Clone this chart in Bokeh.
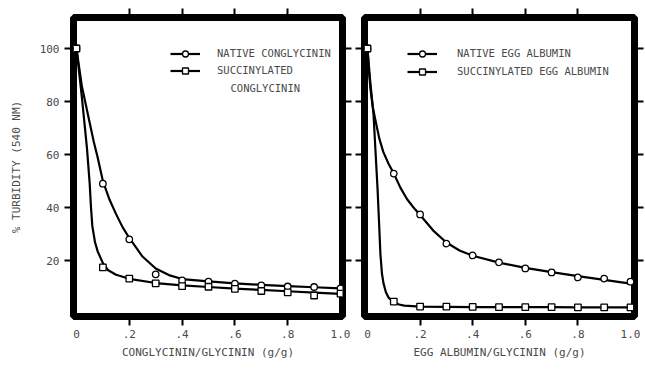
from bokeh.plotting import figure
from bokeh.models import FixedTicker, LinearAxis, Range1d, Legend, LegendItem, Label
from bokeh.layouts import row
from bokeh.embed import file_html
from bokeh.resources import INLINE

# ---------------- data ----------------
ratio_x = [0.0, 0.1, 0.2, 0.3, 0.4, 0.5, 0.6, 0.7, 0.8, 0.9, 1.0]

native_conglycinin = [100, 49, 28, 14.8, 12.5, 12, 11.3, 10.6, 10.2, 10.0, 9.5]
succinylated_conglycinin = [100, 17.4, 13.2, 11.4, 10.3, 10.1, 9.3, 8.5, 8.0, 6.8, 7.5]

native_egg_albumin = [100, 52.8, 37.4, 26.4, 21.9, 19.3, 17.0, 15.5, 13.6, 13.2, 12.0]
succinylated_egg_albumin = [100, 4.5, 2.6, 2.6, 2.5, 2.4, 2.4, 2.4, 2.3, 2.3, 2.3]

# drawn (fitted) curves
cong_native_curve_x = [0, 0.01, 0.02, 0.035, 0.05, 0.065, 0.08, 0.1, 0.125, 0.15, 0.175,
                       0.2, 0.25, 0.3, 0.35, 0.4, 0.5, 0.6, 0.7, 0.8, 0.9, 1.0]
cong_native_curve_y = [100, 93, 86, 79, 72, 65, 59, 50, 43, 37.5, 32.5,
                       28.5, 21.5, 17, 14.5, 13, 12.1, 11.4, 10.8, 10.3, 9.9, 9.5]

cong_succ_curve_x = [0, 0.01, 0.02, 0.03, 0.04, 0.05, 0.055, 0.06, 0.07, 0.08, 0.1,
                     0.12, 0.15, 0.2, 0.3, 0.4, 0.5, 0.6, 0.7, 0.8, 0.9, 1.0]
cong_succ_curve_y = [100, 91, 82, 72, 62, 49, 40, 33, 27, 23.5, 19,
                     16.3, 14.6, 13.1, 11.5, 10.6, 10.0, 9.4, 8.9, 8.4, 7.9, 7.4]

egg_native_curve_x = [0, 0.005, 0.011, 0.02, 0.03, 0.045, 0.06, 0.08, 0.1, 0.125, 0.15,
                      0.175, 0.2, 0.25, 0.3, 0.35, 0.4, 0.5, 0.6, 0.7, 0.8, 0.9, 1.0]
egg_native_curve_y = [100, 92, 85, 78, 73, 66, 61, 56.5, 52.8, 47.5, 43.2,
                      40, 37.2, 31.3, 26.8, 23.8, 21.8, 19.2, 17.2, 15.6, 14.1, 12.7, 11.3]

egg_succ_curve_x = [0, 0.01, 0.023, 0.03, 0.038, 0.045, 0.049, 0.055, 0.061, 0.07, 0.08,
                    0.1, 0.12, 0.14, 0.2, 0.3, 0.4, 0.5, 0.6, 0.7, 0.8, 0.9, 1.0]
egg_succ_curve_y = [100, 88, 75, 62, 47.5, 32, 22.6, 15, 11.3, 8, 6,
                    4.3, 3.4, 3.0, 2.6, 2.5, 2.4, 2.4, 2.4, 2.4, 2.3, 2.3, 2.3]

y_ticks = [20, 40, 60, 80, 100]
x_ticks = [0, 0.2, 0.4, 0.6, 0.8, 1.0]
x_inner_ticks = [0.2, 0.4, 0.6, 0.8]
x_tick_labels = ["0", ".2", ".4", ".6", ".8", "1.0"]
y_tick_labels = ["20", "40", "60", "80", "100"]

FONT = "DejaVu Sans Mono"
TEXT = "#4a4a4a"
TICK_OUT = 9


def style_axis(ax, ticker, labels=None, title=None, label_standoff=4, title_standoff=4):
    ax.ticker = ticker
    ax.axis_line_color = None
    ax.major_tick_in = 0
    ax.major_tick_out = TICK_OUT
    ax.major_tick_line_width = 2
    ax.minor_tick_in = 0
    ax.minor_tick_out = TICK_OUT
    ax.minor_tick_line_width = 2
    ax.minor_tick_line_color = "black"
    if labels is None:
        ax.major_label_text_font_size = "0px"
        ax.major_label_text_color = None
        ax.major_label_standoff = 0
    else:
        ax.major_label_overrides = labels
        ax.major_label_text_font = FONT
        ax.major_label_text_font_size = "11px"
        ax.major_label_text_color = TEXT
        ax.major_label_standoff = label_standoff
    if title is not None:
        ax.axis_label = title
        ax.axis_label_text_font = FONT
        ax.axis_label_text_font_size = "11px"
        ax.axis_label_text_font_style = "normal"
        ax.axis_label_text_color = TEXT
        ax.axis_label_standoff = title_standoff


def make_panel(width, border_left, border_right, x_range, show_y_labels, x_title):
    p = figure(width=width, height=371, output_backend="svg", toolbar_location=None,
               x_range=x_range, y_range=Range1d(-1.13, 111.7),
               min_border_left=border_left, min_border_right=border_right,
               min_border_top=17, min_border_bottom=55)
    p.outline_line_color = "black"
    p.outline_line_width = 7
    p.xgrid.visible = False
    p.ygrid.visible = False
    p.background_fill_color = "white"
    p.border_fill_color = "white"

    # bottom axis: labels on every tick, tick marks only on the inner ones
    bottom = p.xaxis[0]
    style_axis(bottom, FixedTicker(ticks=x_ticks, minor_ticks=x_inner_ticks),
               labels={t: s for t, s in zip(x_ticks, x_tick_labels)},
               title=x_title, label_standoff=4, title_standoff=5)
    bottom.major_tick_line_color = None

    left = p.yaxis[0]
    if show_y_labels:
        style_axis(left, FixedTicker(ticks=y_ticks),
                   labels={t: s for t, s in zip(y_ticks, y_tick_labels)},
                   title="% TURBIDITY (540 NM)", label_standoff=5, title_standoff=14)
    else:
        style_axis(left, FixedTicker(ticks=y_ticks))

    top = LinearAxis()
    style_axis(top, FixedTicker(ticks=x_inner_ticks))
    p.add_layout(top, "above")
    right = LinearAxis()
    style_axis(right, FixedTicker(ticks=y_ticks))
    p.add_layout(right, "right")
    return p


def add_series(p, cx, cy, px, py, marker):
    ln = p.line(cx, cy, line_color="black", line_width=2.2, line_join="round")
    mk = p.scatter(px, py, marker=marker, size=6.5, fill_color="white",
                   line_color="black", line_width=1.3)
    return ln, mk


def add_legend(p, items, loc, standoff, spacing):
    leg = Legend(items=items, location=loc, glyph_width=30, glyph_height=15,
                 label_height=15, label_standoff=standoff, spacing=spacing,
                 padding=0, margin=0, border_line_color=None,
                 background_fill_alpha=0, label_text_font=FONT,
                 label_text_font_size="10.5px", label_text_color=TEXT)
    p.add_layout(leg)


# ---------------- left panel ----------------
p1 = make_panel(352, 73, 10, Range1d(-0.0113, 1.0075), True,
                "CONGLYCININ/GLYCININ (g/g)")
l1, c1 = add_series(p1, cong_native_curve_x, cong_native_curve_y,
                    ratio_x, native_conglycinin, "circle")
l2, s2 = add_series(p1, cong_succ_curve_x, cong_succ_curve_y,
                    ratio_x, succinylated_conglycinin, "square")
add_legend(p1, [LegendItem(label="NATIVE CONGLYCININ", renderers=[l1, c1]),
                LegendItem(label="SUCCINYLATED", renderers=[l2, s2])],
           (97, 238.5), 17, 2)
p1.add_layout(Label(x=157, y=229, x_units="screen", y_units="screen",
                    text="CONGLYCININ", text_baseline="middle", text_font=FONT,
                    text_font_size="10.5px", text_color=TEXT))

# ---------------- right panel ----------------
p2 = make_panel(293, 12, 11, Range1d(-0.0114, 1.0152), False,
                "EGG ALBUMIN/GLYCININ (g/g)")
l3, c3 = add_series(p2, egg_native_curve_x, egg_native_curve_y,
                    ratio_x, native_egg_albumin, "circle")
l4, s4 = add_series(p2, egg_succ_curve_x, egg_succ_curve_y,
                    ratio_x, succinylated_egg_albumin, "square")
add_legend(p2, [LegendItem(label="NATIVE EGG ALBUMIN", renderers=[l3, c3]),
                LegendItem(label="SUCCINYLATED EGG ALBUMIN", renderers=[l4, s4])],
           (43, 237.5), 20, 3)

layout = row(p1, p2)
open("out.html", "w").write(file_html(layout, INLINE))
